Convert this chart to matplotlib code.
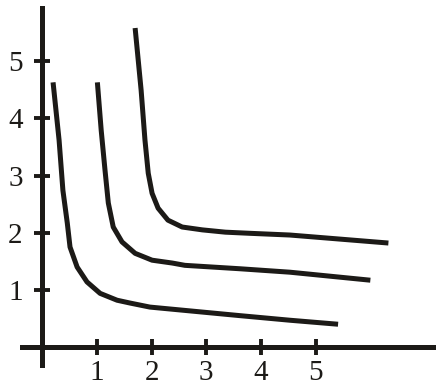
import matplotlib
matplotlib.use('Agg')
import matplotlib.pyplot as plt

plt.rcParams['font.family'] = ['Liberation Serif', 'DejaVu Serif']

# three curves, values
x_low = [0.20, 0.31, 0.38, 0.46, 0.51, 0.64, 0.82, 1.06, 1.37, 1.61, 1.97, 2.52, 3.62, 4.53, 5.41]
y_low = [4.63, 3.62, 2.74, 2.17, 1.75, 1.40, 1.14, 0.94, 0.82, 0.77, 0.70, 0.65, 0.55, 0.47, 0.40]

x_mid = [1.01, 1.08, 1.15, 1.21, 1.30, 1.46, 1.70, 2.01, 2.38, 2.61, 3.62, 4.53, 6.00]
y_mid = [4.63, 3.79, 3.09, 2.52, 2.10, 1.84, 1.64, 1.52, 1.47, 1.43, 1.37, 1.31, 1.17]

x_top = [1.70, 1.81, 1.88, 1.94, 2.01, 2.12, 2.30, 2.56, 2.93, 3.35, 3.80, 4.53, 6.33]
y_top = [5.58, 4.49, 3.62, 3.04, 2.69, 2.43, 2.22, 2.10, 2.05, 2.01, 1.99, 1.96, 1.82]

ticks = [1, 2, 3, 4, 5]
ink = '#1c1a17'

fig = plt.figure(figsize=(4.36, 3.86), dpi=100)
ax = fig.add_axes([0, 0, 1, 1])

for xs, ys in [(x_low, y_low), (x_mid, y_mid), (x_top, y_top)]:
    ax.plot(xs, ys, color=ink, lw=3.6, solid_capstyle='butt', solid_joinstyle='round')

ax.set_xlim(-0.77, 7.20)
ax.set_ylim(-0.68, 6.07)

ax.spines['right'].set_visible(False)
ax.spines['top'].set_visible(False)
ax.spines['left'].set_position(('data', 0))
ax.spines['bottom'].set_position(('data', 0))
ax.spines['left'].set_bounds(-0.31, 5.93)
ax.spines['bottom'].set_bounds(-0.37, 7.20)
for s in ['left', 'bottom']:
    ax.spines[s].set_linewidth(3.6)
    ax.spines[s].set_color(ink)

ax.set_xticks(ticks)
ax.set_yticks(ticks)
ax.set_xticklabels([str(t) for t in ticks])
ax.set_yticklabels([str(t) for t in ticks])
ax.tick_params(direction='inout', length=11, width=2.8, color=ink,
               labelsize=21, labelcolor=ink)
ax.tick_params(axis='y', pad=8.5)
ax.tick_params(axis='x', pad=4)

fig.savefig('out.png', dpi=100)
